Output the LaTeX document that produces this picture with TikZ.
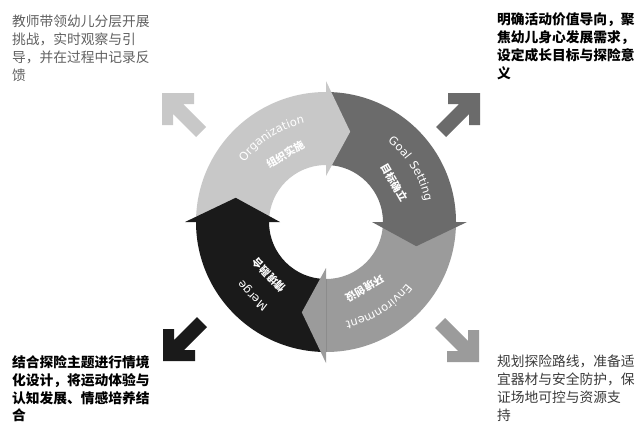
\documentclass[tikz,border=0pt]{standalone}
\usepackage{fontspec}
\setmainfont{DejaVu Sans}
\newfontfamily\cjk{Noto Sans CJK SC}
\newfontfamily\ringfont[LetterSpace=12]{DejaVu Sans}
\usetikzlibrary{positioning, calc, decorations.text}

\definecolor{orgGray}{HTML}{C8C8C8}
\definecolor{goalGray}{HTML}{6B6B6B}
\definecolor{envGray}{HTML}{9B9B9B}
\definecolor{mergeBlack}{HTML}{1A1A1A}
\definecolor{noteGray}{HTML}{606060}
\definecolor{noteDark}{HTML}{3A3A3A}

% ring part: start angle, end angle, colour
\newcommand{\ringpart}[3]{\fill[#3] ($(C)+(#1:130)$) arc[start angle=#1, end angle=#2, radius=130] -- ($(C)+(#2:57)$) arc[start angle=#2, end angle=#1, radius=57] -- cycle;}
% ring head: base angle, colour
\newcommand{\ringhead}[2]{\fill[#2] ($(C)+(#1:141)$) -- ($(C)+({#1-15}:93.5)$) -- ($(C)+(#1:46)$) -- cycle;}
% corner arrow: tip, rotation, colour
\newcommand{\cornerarrow}[3]{\fill[#3, shift={#1}, rotate=#2] (0,0) -- (-32,0) -- (-32,-11) -- (-21,-11) -- (-44,-34) -- (-34,-44) -- (-11,-21) -- (-11,-32) -- (0,-32) -- cycle;}

\begin{document}
\begin{tikzpicture}[x=1bp, y=1bp,
    note/.style={inner sep=0pt, align=left, anchor=north west, font=\cjk\fontsize{13.8}{18}\selectfont},
    notebold/.style={note, font=\cjk\bfseries\fontsize{13.8}{18}\selectfont},
    sub/.style={inner sep=0pt, text=white, font=\cjk\bfseries\fontsize{10.5}{10.5}\selectfont}]
    \useasboundingbox (0,0) rectangle (639,426);
    \coordinate (C) at (326,204);

    \ringpart{180}{90}{orgGray}
    \ringpart{90}{0}{goalGray}
    \ringpart{0}{-90}{envGray}
    \ringpart{-90}{-180}{mergeBlack}
    %
    \ringhead{90}{orgGray}
    \ringhead{0}{goalGray}
    \ringhead{-90}{envGray}
    \ringhead{180}{mergeBlack}

    \path[decorate, decoration={text along path, text align=center, text={|\ringfont\fontsize{11.5}{11.5}\selectfont\color{white}|Organization}}] ($(C)+(163:101)$) arc[start angle=163, end angle=83, radius=101];
    \path[decorate, decoration={text along path, text align=center, text={|\ringfont\fontsize{11.5}{11.5}\selectfont\color{white}|Goal Setting}}] ($(C)+(72:101)$) arc[start angle=72, end angle=-8, radius=101];
    \path[decorate, decoration={text along path, text align=center, text={|\ringfont\fontsize{11.5}{11.5}\selectfont\color{white}|Environment}}] ($(C)+(-18:101)$) arc[start angle=-18, end angle=-98, radius=101];
    \path[decorate, decoration={text along path, text align=center, text={|\ringfont\fontsize{11.5}{11.5}\selectfont\color{white}|Merge}}] ($(C)+(-95:101)$) arc[start angle=-95, end angle=-175, radius=101];

    \node[sub, rotate=31] (orgcn) at ($(C)+(121:79)$) {组织实施};
    \node[sub, rotate=-60] (goalcn) at ($(C)+(30:79)$) {目标确立};
    \node[sub, rotate=-150] (envcn) at ($(C)+(-60:77)$) {环境创设};
    \node[sub, rotate=133] (mergecn) at ($(C)+(-137:78)$) {情境融合};

    \cornerarrow{(162,333)}{90}{orgGray}
    \cornerarrow{(480,333)}{0}{goalGray}
    \cornerarrow{(479,64)}{-90}{envGray}
    \cornerarrow{(163,65)}{180}{mergeBlack}

    \node[note, text=noteGray] (orgnote) at (12,411) {教师带领幼儿分层开展\\挑战，实时观察与引\\导，并在过程中记录反\\馈};
    \node[notebold, text=black] (goalnote) at (497,413) {明确活动价值导向，聚\\焦幼儿身心发展需求，\\设定成长目标与探险意\\义};
    \node[note, text=noteDark] (envnote) at (497,71) {规划探险路线，准备适\\宜器材与安全防护，保\\证场地可控与资源支\\持};
    \node[notebold, text=black] (mergenote) at (12,71) {结合探险主题进行情境\\化设计，将运动体验与\\认知发展、情感培养结\\合};
\end{tikzpicture}
\end{document}
